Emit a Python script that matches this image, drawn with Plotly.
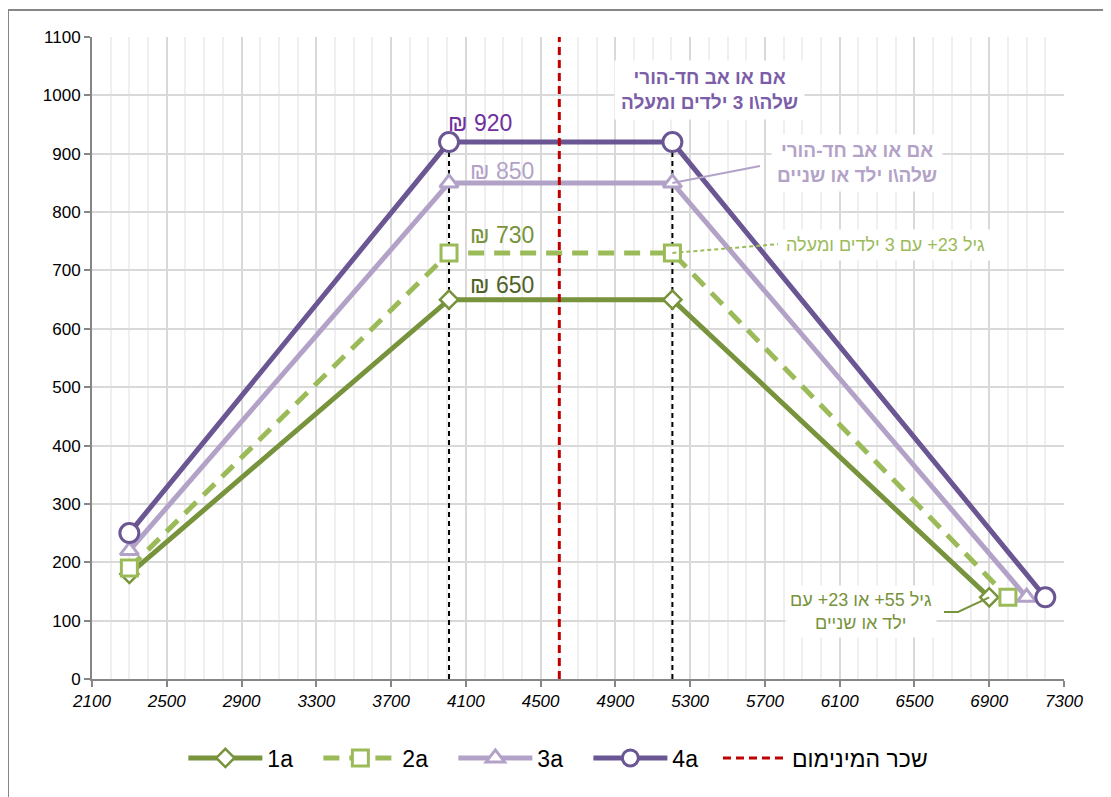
import plotly.graph_objects as go

# ---- data ----
series_names = ["1a", "2a", "3a", "4a"]
x_1a = [2300, 4010, 5205, 6900]
y_1a = [180, 650, 650, 140]
x_2a = [2300, 4010, 5205, 7000]
y_2a = [190, 730, 730, 140]
x_3a = [2300, 4010, 5205, 7100]
y_3a = [220, 850, 850, 140]
x_4a = [2300, 4010, 5205, 7200]
y_4a = [250, 920, 920, 140]
min_wage_x = 4600
min_wage_name = "שכר המינימום"
plateau_labels = ["₪ 650", "₪ 730", "₪ 850", "₪ 920"]

FONT = "Liberation Sans, Arial, sans-serif"
C1, C2, C3, C4 = "#77933C", "#9BBB59", "#B3A2C7", "#6A5693"

fig = go.Figure()

# black dashed drop lines at the plateau edges
for xv in (x_4a[1], x_4a[2]):
    fig.add_trace(go.Scatter(x=[xv, xv], y=[0, y_4a[1]], mode="lines",
                             line=dict(color="#000000", width=2, dash="5px,4px"),
                             showlegend=False, hoverinfo="skip"))

fig.add_trace(go.Scatter(x=x_1a, y=y_1a, name=series_names[0], mode="lines+markers",
                         line=dict(color=C1, width=5),
                         marker=dict(symbol="diamond", size=14, color="white",
                                     line=dict(color=C1, width=2.5))))
fig.add_trace(go.Scatter(x=x_2a, y=y_2a, name=series_names[1], mode="lines+markers",
                         line=dict(color=C2, width=5, dash="16px,10px"),
                         marker=dict(symbol="square", size=16, color="white",
                                     line=dict(color=C2, width=3))))
fig.add_trace(go.Scatter(x=x_3a, y=y_3a, name=series_names[2], mode="lines+markers",
                         line=dict(color=C3, width=5),
                         marker=dict(symbol="triangle-up", size=16, color="white",
                                     line=dict(color=C3, width=3))))
fig.add_trace(go.Scatter(x=x_4a, y=y_4a, name=series_names[3], mode="lines+markers",
                         line=dict(color=C4, width=5),
                         marker=dict(symbol="circle", size=19, color="white",
                                     line=dict(color=C4, width=3))))
fig.add_trace(go.Scatter(x=[min_wage_x, min_wage_x], y=[0, 1100], name=min_wage_name,
                         mode="lines", legend="legend2",
                         line=dict(color="#C00000", width=3, dash="8px,5px")))

# plateau value labels
label_cols = ["#4F6228", C1, C3, "#7030A0"]
label_shift = [15, 18, 12, 19]
label_x = [53, 53, 53, 31]
for lab, yv, col, ys, xs in zip(plateau_labels, [y_1a[1], y_2a[1], y_3a[1], y_4a[1]],
                                label_cols, label_shift, label_x):
    fig.add_annotation(x=x_1a[1], y=yv, text=lab, showarrow=False,
                       xshift=xs, yshift=ys, font=dict(family=FONT, size=23, color=col))

# text annotations with white background
fig.add_annotation(x=5406, y=1009, text="<b>אם או אב חד-הורי<br>שלה\\ו 3 ילדים ומעלה</b>",
                   showarrow=False, bgcolor="white", borderpad=6,
                   font=dict(family=FONT, size=19, color="#7B5EA7"))
fig.add_annotation(x=6190, y=884, text="<b>אם או אב חד-הורי<br>שלה\\ו ילד או שניים</b>",
                   showarrow=False, bgcolor="white", borderpad=5,
                   font=dict(family=FONT, size=19, color=C3))
fig.add_annotation(x=6343, y=744, text="גיל 23+ עם 3 ילדים ומעלה",
                   showarrow=False, bgcolor="white", borderpad=5,
                   font=dict(family=FONT, size=18, color=C2))
fig.add_annotation(x=6215, y=115, text="גיל 55+ או 23+ עם<br>ילד או שניים",
                   showarrow=False, bgcolor="white", borderpad=4,
                   font=dict(family=FONT, size=18, color=C1))

# leader lines
fig.add_shape(type="line", x0=x_3a[2], y0=y_3a[2], x1=5674, y1=879,
              line=dict(color=C3, width=2))
fig.add_shape(type="line", x0=x_2a[2], y0=y_2a[2], x1=5770, y1=745,
              line=dict(color=C2, width=2, dash="4px,3px"))
fig.add_shape(type="path", path=f"M {x_1a[3]},{y_1a[3]} L 6733,115 L 6658,115",
              line=dict(color=C1, width=2))

# outer chart border
fig.add_shape(type="rect", xref="paper", yref="paper", x0=-0.0864, x1=1.07,
              y0=-0.21, y1=1.042, line=dict(color="#868686", width=2), layer="below")

fig.update_layout(
    width=1111, height=797,
    margin=dict(l=84, r=55, t=29, b=126),
    plot_bgcolor="white", paper_bgcolor="white",
    font=dict(family=FONT, size=17, color="#000000"),
    legend=dict(orientation="h", x=0.094, xanchor="left", y=-0.123, yanchor="middle",
                font=dict(family=FONT, size=23, color="#000000"), itemwidth=74,
                entrywidth=46, entrywidthmode="pixels", traceorder="normal"),
    legend2=dict(orientation="h", x=0.644, xanchor="left", y=-0.123, yanchor="middle",
                 font=dict(family=FONT, size=23, color="#000000"), itemwidth=64),
    xaxis=dict(range=[2100, 7300], tick0=2100, dtick=400, showgrid=True,
               gridcolor="#D9D9D9", gridwidth=2, zeroline=False,
               minor=dict(dtick=100, showgrid=True, gridcolor="#EFEFEF", gridwidth=1.5),
               showline=True, linecolor="#868686", linewidth=2,
               ticks="outside", ticklen=6, tickcolor="#868686", tickwidth=2,
               tickfont=dict(family=FONT, size=17, color="#000000", style="italic")),
    yaxis=dict(range=[0, 1100], dtick=100, showgrid=True, gridcolor="#D9D9D9",
               gridwidth=2, zeroline=False, showline=True, linecolor="#868686",
               linewidth=2, ticks="outside", ticklen=6, tickcolor="#868686", tickwidth=2,
               tickfont=dict(family=FONT, size=17, color="#000000")),
)

fig.write_html("out.html")
